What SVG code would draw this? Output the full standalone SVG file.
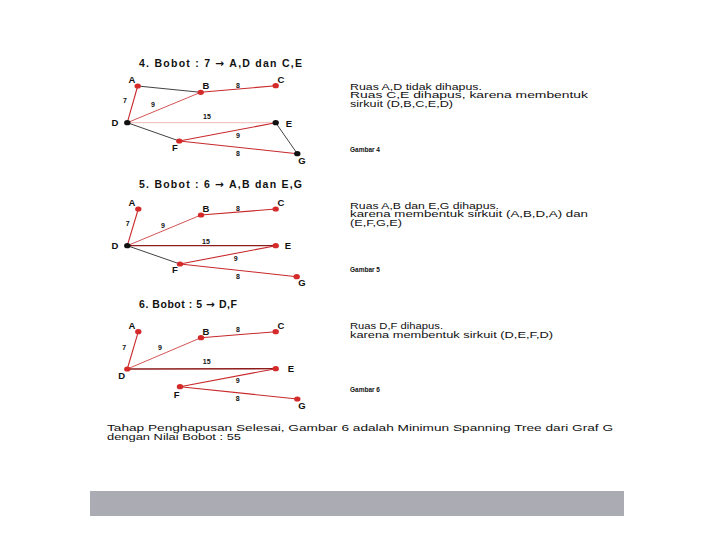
<svg xmlns="http://www.w3.org/2000/svg" width="720" height="540" viewBox="0 0 720 540">
<style>
.t{font-family:"Liberation Sans",Arial,sans-serif;fill:#111}
.title{font-size:10.5px;font-weight:bold}
.ar{font-family:"DejaVu Sans",sans-serif;font-weight:bold}
.nl{font-size:9.5px;font-weight:bold}
.el{font-size:7px;font-weight:bold}
.body{font-size:8.6px}
.gb{font-size:6.5px;font-weight:bold}
.r{stroke:#c8282a;stroke-width:1.1;fill:none}
.rt{stroke:#c8282a;stroke-width:0.8;fill:none}
.dr{stroke:#8e1c1c;stroke-width:1.3;fill:none}
.pk{stroke:#f2b8b8;stroke-width:1;fill:none}
.k{stroke:#111;stroke-width:0.8;fill:none}
.nr{fill:#d42a2a}
.nk{fill:#111}
</style>
<rect width="720" height="540" fill="#fff"/>

<!-- Section 4 -->
<text class="t title" x="139" y="67" textLength="163" lengthAdjust="spacing">4. Bobot : 7 <tspan class="ar">→</tspan> A,D dan C,E</text>
<g id="edges4">
<line class="k" x1="137.7" y1="86" x2="200.7" y2="92.3"/>
<line class="r" x1="200.7" y1="92.3" x2="275.7" y2="85.7"/>
<line class="r" x1="137.7" y1="86" x2="127.3" y2="122.7"/>
<line class="rt" x1="127.3" y1="122.7" x2="200.7" y2="92.3"/>
<line class="pk" x1="127.3" y1="122.7" x2="275.7" y2="122.7"/>
<line class="k" x1="127.3" y1="122.7" x2="179.3" y2="141"/>
<line class="r" x1="179.3" y1="141" x2="275.7" y2="122.7"/>
<line class="r" x1="179.3" y1="141" x2="297.3" y2="153.7"/>
<line class="k" x1="275.7" y1="122.7" x2="297.3" y2="153.7"/>
</g>
<g class="t el">
<text x="125" y="102.5" text-anchor="middle">7</text>
<text x="153" y="106.5" text-anchor="middle">9</text>
<text x="238" y="87.5" text-anchor="middle">8</text>
<text x="207" y="118.5" text-anchor="middle">15</text>
<text x="238" y="137.5" text-anchor="middle">9</text>
<text x="238" y="155.5" text-anchor="middle">8</text>
</g>
<g id="A4"><ellipse class="nr" cx="137.7" cy="86" rx="3.2" ry="2.6"/><text class="t nl" x="132" y="83" text-anchor="middle">A</text></g>
<g id="B4"><ellipse class="nr" cx="200.7" cy="92.3" rx="3.2" ry="2.6"/><text class="t nl" x="206" y="89" text-anchor="middle">B</text></g>
<g id="C4"><ellipse class="nr" cx="275.7" cy="85.7" rx="3.2" ry="2.6"/><text class="t nl" x="281" y="83" text-anchor="middle">C</text></g>
<g id="D4"><ellipse class="nk" cx="127.3" cy="122.7" rx="3.2" ry="2.6"/><text class="t nl" x="115" y="126" text-anchor="middle">D</text></g>
<g id="E4"><ellipse class="nk" cx="275.7" cy="122.7" rx="3.2" ry="2.6"/><text class="t nl" x="289" y="127" text-anchor="middle">E</text></g>
<g id="F4"><ellipse class="nr" cx="179.3" cy="141" rx="3.2" ry="2.6"/><text class="t nl" x="175" y="151" text-anchor="middle">F</text></g>
<g id="G4"><ellipse class="nk" cx="297.3" cy="153.7" rx="3.2" ry="2.6"/><text class="t nl" x="302" y="164" text-anchor="middle">G</text></g>
<g class="t body">
<text x="350" y="89.5" textLength="132" lengthAdjust="spacingAndGlyphs">Ruas A,D tidak dihapus.</text>
<text x="350" y="98" textLength="238" lengthAdjust="spacingAndGlyphs">Ruas C,E dihapus, karena membentuk</text>
<text x="350" y="106.5" textLength="103" lengthAdjust="spacingAndGlyphs">sirkuit (D,B,C,E,D)</text>
</g>
<text class="t gb" x="350" y="151.5" textLength="30" lengthAdjust="spacingAndGlyphs">Gambar 4</text>

<!-- Section 5 -->
<text class="t title" x="139" y="188" textLength="163" lengthAdjust="spacing">5. Bobot : 6 <tspan class="ar">→</tspan> A,B dan E,G</text>
<g id="edges5">
<line class="r" x1="138.3" y1="209" x2="127.3" y2="245.7"/>
<line class="rt" x1="127.3" y1="245.7" x2="201" y2="215"/>
<line class="r" x1="201" y1="215" x2="275.7" y2="209"/>
<line class="dr" x1="127.3" y1="245.7" x2="275.7" y2="245.7"/>
<line class="k" x1="127.3" y1="245.7" x2="180" y2="264"/>
<line class="r" x1="180" y1="264" x2="275.7" y2="245.7"/>
<line class="r" x1="180" y1="264" x2="296.7" y2="276.7"/>
</g>
<g class="t el">
<text x="127.7" y="225.5" text-anchor="middle">7</text>
<text x="163" y="227.5" text-anchor="middle">9</text>
<text x="238" y="210.5" text-anchor="middle">8</text>
<text x="206" y="243.5" text-anchor="middle">15</text>
<text x="235.7" y="260.5" text-anchor="middle">9</text>
<text x="238" y="278.5" text-anchor="middle">8</text>
</g>
<g id="A5"><ellipse class="nr" cx="138.3" cy="209" rx="3.2" ry="2.6"/><text class="t nl" x="132" y="206" text-anchor="middle">A</text></g>
<g id="B5"><ellipse class="nr" cx="201" cy="215" rx="3.2" ry="2.6"/><text class="t nl" x="206" y="212" text-anchor="middle">B</text></g>
<g id="C5"><ellipse class="nr" cx="275.7" cy="209" rx="3.2" ry="2.6"/><text class="t nl" x="281" y="206" text-anchor="middle">C</text></g>
<g id="D5"><ellipse class="nk" cx="127.3" cy="245.7" rx="3.2" ry="2.6"/><text class="t nl" x="115" y="249" text-anchor="middle">D</text></g>
<g id="E5"><ellipse class="nr" cx="275.7" cy="245.7" rx="3.2" ry="2.6"/><text class="t nl" x="288" y="249" text-anchor="middle">E</text></g>
<g id="F5"><ellipse class="nr" cx="180" cy="264" rx="3.2" ry="2.6"/><text class="t nl" x="175" y="273" text-anchor="middle">F</text></g>
<g id="G5"><ellipse class="nr" cx="296.7" cy="276.7" rx="3.2" ry="2.6"/><text class="t nl" x="302" y="286" text-anchor="middle">G</text></g>
<g class="t body">
<text x="350" y="208.5" textLength="149" lengthAdjust="spacingAndGlyphs">Ruas A,B dan E,G dihapus.</text>
<text x="350" y="217" textLength="238" lengthAdjust="spacingAndGlyphs">karena membentuk sirkuit (A,B,D,A) dan</text>
<text x="350" y="225.5" textLength="52" lengthAdjust="spacingAndGlyphs">(E,F,G,E)</text>
</g>
<text class="t gb" x="350" y="271.5" textLength="30" lengthAdjust="spacingAndGlyphs">Gambar 5</text>

<!-- Section 6 -->
<text class="t title" x="139" y="308" textLength="98" lengthAdjust="spacing">6. Bobot : 5 <tspan class="ar">→</tspan> D,F</text>
<g id="edges6">
<line class="r" x1="138.3" y1="331.7" x2="127.3" y2="369"/>
<line class="rt" x1="127.3" y1="369" x2="201" y2="337.7"/>
<line class="r" x1="201" y1="337.7" x2="275.7" y2="331.7"/>
<line class="dr" x1="127.3" y1="369" x2="275.7" y2="368.7"/>
<line class="r" x1="180" y1="386.7" x2="275.7" y2="368.7"/>
<line class="r" x1="180" y1="386.7" x2="297.3" y2="399"/>
</g>
<g class="t el">
<text x="124.3" y="349.5" text-anchor="middle">7</text>
<text x="160" y="349.5" text-anchor="middle">9</text>
<text x="238" y="331.5" text-anchor="middle">8</text>
<text x="206.7" y="364" text-anchor="middle">15</text>
<text x="237.7" y="382.5" text-anchor="middle">9</text>
<text x="237.7" y="401" text-anchor="middle">8</text>
</g>
<g id="A6"><ellipse class="nr" cx="138.3" cy="331.7" rx="3.2" ry="2.6"/><text class="t nl" x="132" y="329" text-anchor="middle">A</text></g>
<g id="B6"><ellipse class="nr" cx="201" cy="337.7" rx="3.2" ry="2.6"/><text class="t nl" x="206" y="335" text-anchor="middle">B</text></g>
<g id="C6"><ellipse class="nr" cx="275.7" cy="331.7" rx="3.2" ry="2.6"/><text class="t nl" x="281" y="329" text-anchor="middle">C</text></g>
<g id="D6"><ellipse class="nr" cx="127.3" cy="369" rx="3.2" ry="2.6"/><text class="t nl" x="121.7" y="379" text-anchor="middle">D</text></g>
<g id="E6"><ellipse class="nr" cx="275.7" cy="368.7" rx="3.2" ry="2.6"/><text class="t nl" x="291" y="372" text-anchor="middle">E</text></g>
<g id="F6"><ellipse class="nr" cx="180" cy="386.7" rx="3.2" ry="2.6"/><text class="t nl" x="176.7" y="398" text-anchor="middle">F</text></g>
<g id="G6"><ellipse class="nr" cx="297.3" cy="399" rx="3.2" ry="2.6"/><text class="t nl" x="302" y="409" text-anchor="middle">G</text></g>
<g class="t body">
<text x="350" y="328.5" textLength="93" lengthAdjust="spacingAndGlyphs">Ruas D,F dihapus.</text>
<text x="350" y="337.5" textLength="203" lengthAdjust="spacingAndGlyphs">karena membentuk sirkuit (D,E,F,D)</text>
</g>
<text class="t gb" x="350" y="391.5" textLength="30" lengthAdjust="spacingAndGlyphs">Gambar 6</text>

<!-- Conclusion -->
<g class="t body">
<text x="107" y="431" textLength="506" lengthAdjust="spacingAndGlyphs">Tahap Penghapusan Selesai, Gambar 6 adalah Minimun Spanning Tree dari Graf G</text>
<text x="107" y="440" textLength="134" lengthAdjust="spacingAndGlyphs">dengan Nilai Bobot : 55</text>
</g>

<rect x="90" y="491" width="534" height="25" fill="#abacb3"/>
</svg>
